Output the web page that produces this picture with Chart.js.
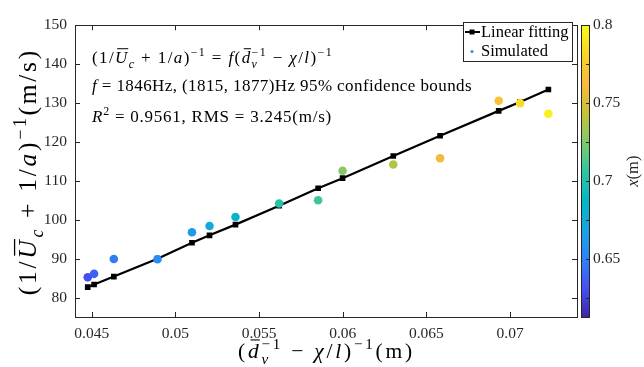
<!DOCTYPE html>
<html>
<head>
<meta charset="utf-8">
<script src="https://cdn.jsdelivr.net/npm/chart.js@4.4.1/dist/chart.umd.min.js"></script>
<style>
  html, body { margin: 0; padding: 0; background: #fff; }
</style>
</head>
<body>
<canvas id="myChart" width="644" height="367"></canvas>
<script>
// values
const xVals = [0.04476, 0.04514, 0.04632, 0.04893, 0.05099, 0.05204, 0.05359, 0.0562, 0.05853, 0.05999, 0.06302, 0.06582, 0.06932, 0.0706, 0.07229];
const ySim = [85.2, 86.1, 89.9, 89.85, 96.8, 98.4, 100.7, 104.2, 105.0, 112.6, 114.2, 115.8, 130.6, 130.0, 127.25];
const yFit = [82.7, 83.35, 85.4, 90.0, 94.1, 96.0, 98.75, 103.6, 108.1, 110.7, 116.4, 121.6, 128.0, 130.3, 133.5];
const posVals = [0.630, 0.637, 0.648, 0.656, 0.663, 0.673, 0.682, 0.703, 0.710, 0.727, 0.738, 0.759, 0.768, 0.785, 0.794];
const xTicks = [0.045, 0.05, 0.055, 0.06, 0.065, 0.07];
const yTicks = [80, 90, 100, 110, 120, 130, 140, 150];
const cbTicks = [0.65, 0.7, 0.75, 0.8];
const cbMinor = [0.625, 0.675, 0.725, 0.775];
const cbMin = 0.6129, cbMax = 0.8;

// parula-like colour map
const parulaStops = [
  [0.2422, 0.1504, 0.6603], [0.2760, 0.3205, 0.9568], [0.1805, 0.5109, 0.9773],
  [0.0911, 0.6466, 0.8790], [0.0267, 0.7155, 0.7726], [0.1906, 0.7720, 0.6291],
  [0.4962, 0.7934, 0.4115], [0.7838, 0.7566, 0.2212], [0.9830, 0.7275, 0.2464],
  [0.9643, 0.8342, 0.1551], [0.9769, 0.9839, 0.0805]
];
function parulaT(t) {
  t = Math.max(0, Math.min(1, t));
  const f = t * (parulaStops.length - 1);
  const i = Math.min(Math.floor(f), parulaStops.length - 2);
  const k = f - i;
  const a = parulaStops[i], b = parulaStops[i + 1];
  const c = a.map((v, j) => Math.round(255 * (v + (b[j] - v) * k)));
  return 'rgb(' + c.join(',') + ')';
}
function parula(v) { return parulaT((v - cbMin) / (cbMax - cbMin)); }

const SERIF = '"Liberation Serif", "Times New Roman", serif';
const AX = '#262626';

function fnt(sz, it) { return (it ? 'italic ' : '') + sz + 'px ' + SERIF; }

// small rich-text drawer for the math labels; ls = extra px after every character
function drawRich(ctx, x, y, toks, sz, draw, ls) {
  ls = ls || 0;
  ctx.letterSpacing = '0px';
  let cx = x;
  const put = (s, px, py) => {
    if (!draw) return;
    ctx.letterSpacing = ls + 'px';
    ctx.fillText(s, px, py);
    ctx.letterSpacing = '0px';
  };
  for (const t of toks) {
    if (t.stack) {
      const s = sz * 0.7;
      ctx.font = fnt(s, true);
      const w1 = ctx.measureText(t.stack[0]).width + ls * t.stack[0].length;
      put(t.stack[0], cx, y + sz * 0.28);
      ctx.font = fnt(s, false);
      const w2 = ctx.measureText(t.stack[1]).width + ls * t.stack[1].length;
      put(t.stack[1], cx, y - sz * 0.4);
      cx += Math.max(w1, w2);
      continue;
    }
    const small = t.sup || t.sub;
    const s = small ? sz * 0.7 : sz;
    ctx.font = fnt(s, t.it);
    const dy = t.sup ? -sz * 0.4 : (t.sub ? sz * 0.28 : 0);
    const w0 = ctx.measureText(t.s).width;
    put(t.s, cx, y + dy);
    if (draw && t.bar) {
      ctx.save();
      ctx.lineWidth = Math.max(1, sz * 0.05);
      ctx.strokeStyle = ctx.fillStyle;
      ctx.beginPath();
      ctx.moveTo(cx + sz * 0.12, y - sz * 0.84);
      ctx.lineTo(cx + w0 + sz * 0.05, y - sz * 0.84);
      ctx.stroke();
      ctx.restore();
    }
    cx += w0 + ls * t.s.length;
  }
  return cx - x;
}
function charCount(toks) {
  return toks.reduce((n, t) => n + (t.stack ? Math.max(t.stack[0].length, t.stack[1].length) : t.s.length), 0);
}
// spread the characters so the line spans the wanted width
function drawSpread(ctx, x, y, toks, sz, width) {
  const w = drawRich(ctx, 0, 0, toks, sz, false, 0);
  const ls = Math.max(0, (width - w) / charCount(toks));
  drawRich(ctx, x, y, toks, sz, true, ls);
}
const N = s => ({ s });
const I = (s, o) => Object.assign({ s, it: true }, o || {});
const SUP = s => ({ s, sup: true });

const eqLine = [N('(1/'), I('U', { bar: true }), I('c', { sub: true }), N(' + 1/'), I('a'), N(')'), SUP('−1'),
  N(' = '), I('f'), N('('), I('d', { bar: true }), { stack: ['v', '−1'] }, N(' − '), I('χ'), N('/'), I('l'), N(')'), SUP('−1')];
const fLine = [I('f'), N(' = 1846Hz, (1815, 1877)Hz 95% confidence bounds')];
const rLine = [I('R'), SUP('2'), N(' = 0.9561, RMS = 3.245(m/s)')];
const yTitle = [N('(1/'), I('U', { bar: true }), I('c', { sub: true }), N(' + 1/'), I('a'), N(')'), SUP('−1'), N('(m/s)')];
const xTitle = [N('('), I('d', { bar: true }), { stack: ['v', '−1'] }, N(' − '), I('χ'), N('/'), I('l'), N(')'), SUP('−1'), N('(m)')];
const cbTitle = [I('x'), N('(m)')];

const decor = {
  id: 'decor',
  afterDraw(chart) {
    const ctx = chart.ctx;
    const a = chart.chartArea;
    const xs = chart.scales.x, ys = chart.scales.y, cb = chart.scales.cb;
    ctx.save();
    ctx.lineWidth = 1;
    ctx.strokeStyle = AX;
    // inward ticks
    ctx.beginPath();
    xTicks.forEach(v => {
      const px = Math.round(xs.getPixelForValue(v)) + 0.5;
      ctx.moveTo(px, a.bottom); ctx.lineTo(px, a.bottom - 5);
      ctx.moveTo(px, a.top); ctx.lineTo(px, a.top + 5);
    });
    yTicks.forEach(v => {
      const py = Math.round(ys.getPixelForValue(v)) + 0.5;
      ctx.moveTo(a.left, py); ctx.lineTo(a.left + 5, py);
      ctx.moveTo(a.right, py); ctx.lineTo(a.right - 5, py);
    });
    ctx.stroke();
    // box
    ctx.strokeRect(Math.round(a.left) + 0.5, Math.round(a.top) + 0.5, Math.round(a.right - a.left), Math.round(a.bottom - a.top));

    // colour bar
    const bx = a.right + 4, bw = 8;
    const bTop = cb.getPixelForValue(cbMax), bBot = cb.getPixelForValue(cbMin);
    const g = ctx.createLinearGradient(0, bBot, 0, bTop);
    for (let i = 0; i <= 40; i++) g.addColorStop(i / 40, parulaT(i / 40));
    ctx.fillStyle = g;
    ctx.fillRect(bx, bTop, bw, bBot - bTop);
    ctx.strokeRect(bx + 0.5, Math.round(bTop) + 0.5, bw, Math.round(bBot - bTop));
    ctx.beginPath();
    cbTicks.concat(cbMinor).forEach(v => {
      const py = Math.round(cb.getPixelForValue(v)) + 0.5;
      ctx.moveTo(bx + bw, py); ctx.lineTo(bx + bw - 3, py);
    });
    ctx.stroke();

    // text inside the axes
    ctx.fillStyle = '#000';
    ctx.textBaseline = 'alphabetic';
    ctx.textAlign = 'left';
    drawSpread(ctx, 92, 63, eqLine, 17, 241);
    drawSpread(ctx, 92, 91, fLine, 17, 380);
    drawSpread(ctx, 92, 122, rLine, 17, 240);

    // legend
    ctx.fillStyle = '#fff';
    ctx.fillRect(463, 22, 109, 39);
    ctx.strokeStyle = AX;
    ctx.strokeRect(463.5, 22.5, 109, 39);
    ctx.strokeStyle = '#000';
    ctx.lineWidth = 2;
    ctx.beginPath(); ctx.moveTo(465, 32); ctx.lineTo(480, 32); ctx.stroke();
    ctx.fillStyle = '#000';
    ctx.fillRect(469.5, 29.5, 5, 5);
    ctx.fillStyle = parula(0.66);
    ctx.beginPath(); ctx.arc(472, 51.5, 1.5, 0, Math.PI * 2); ctx.fill();
    ctx.fillStyle = '#000';
    ctx.font = fnt(16.5, false);
    ctx.fillText('Linear fitting', 481, 37);
    ctx.fillText('Simulated', 481, 56);

    // axis titles
    ctx.fillStyle = '#000';
    const mid = (a.left + a.right) / 2;
    drawSpread(ctx, mid - 88, 358, xTitle, 21.5, 177);
    ctx.save();
    ctx.translate(36, (a.top + a.bottom) / 2);
    ctx.rotate(-Math.PI / 2);
    drawSpread(ctx, -124, 0, yTitle, 25.5, 247);
    ctx.restore();
    ctx.save();
    ctx.fillStyle = AX;
    ctx.translate(638, (a.top + a.bottom) / 2);
    ctx.rotate(-Math.PI / 2);
    const cw = drawRich(ctx, 0, 0, cbTitle, 16.5, false);
    drawRich(ctx, -cw / 2, 0, cbTitle, 16.5, true);
    ctx.restore();
    ctx.restore();
  }
};

const tickFont = { family: SERIF, size: 15.5 };
const ctx = document.getElementById('myChart');
new Chart(ctx, {
  type: 'scatter',
  data: {
    datasets: [
      {
        label: 'Simulated',
        data: xVals.map((x, i) => ({ x: x, y: ySim[i] })),
        backgroundColor: posVals.map(parula),
        borderWidth: 0,
        pointRadius: 4.3,
        pointHoverRadius: 4.3
      },
      {
        label: 'Linear fitting',
        type: 'line',
        data: xVals.map((x, i) => ({ x: x, y: yFit[i] })),
        borderColor: '#000',
        backgroundColor: '#000',
        borderWidth: 2.2,
        pointStyle: 'rect',
        pointRadius: 4,
        pointBorderWidth: 0,
        showLine: true,
        tension: 0
      }
    ]
  },
  options: {
    responsive: false,
    animation: false,
    devicePixelRatio: 1,
    layout: { padding: { top: 17, left: 0, right: 0, bottom: 0 } },
    plugins: { legend: { display: false }, tooltip: { enabled: false } },
    scales: {
      x: {
        type: 'linear', min: 0.044, max: 0.074,
        afterBuildTicks: s => { s.ticks = xTicks.map(v => ({ value: v })); },
        afterFit: s => { s.height = 50; },
        grid: { display: false, drawTicks: false },
        border: { display: false },
        ticks: { padding: 8, font: tickFont, color: AX, maxRotation: 0, callback: v => String(v) }
      },
      y: {
        type: 'linear', min: 75, max: 150,
        afterBuildTicks: s => { s.ticks = yTicks.map(v => ({ value: v })); },
        afterFit: s => { s.width = 75; },
        grid: { display: false, drawTicks: false },
        border: { display: false },
        ticks: { padding: 8, font: tickFont, color: AX, callback: v => String(v) }
      },
      cb: {
        type: 'linear', position: 'right', axis: 'y', min: cbMin, max: cbMax,
        afterBuildTicks: s => { s.ticks = cbTicks.map(v => ({ value: v })); },
        afterFit: s => { s.width = 67; },
        grid: { display: false, drawTicks: false },
        border: { display: false },
        ticks: { padding: 16, font: tickFont, color: AX, callback: v => String(v) }
      }
    }
  },
  plugins: [decor]
});
</script>
</body>
</html>
